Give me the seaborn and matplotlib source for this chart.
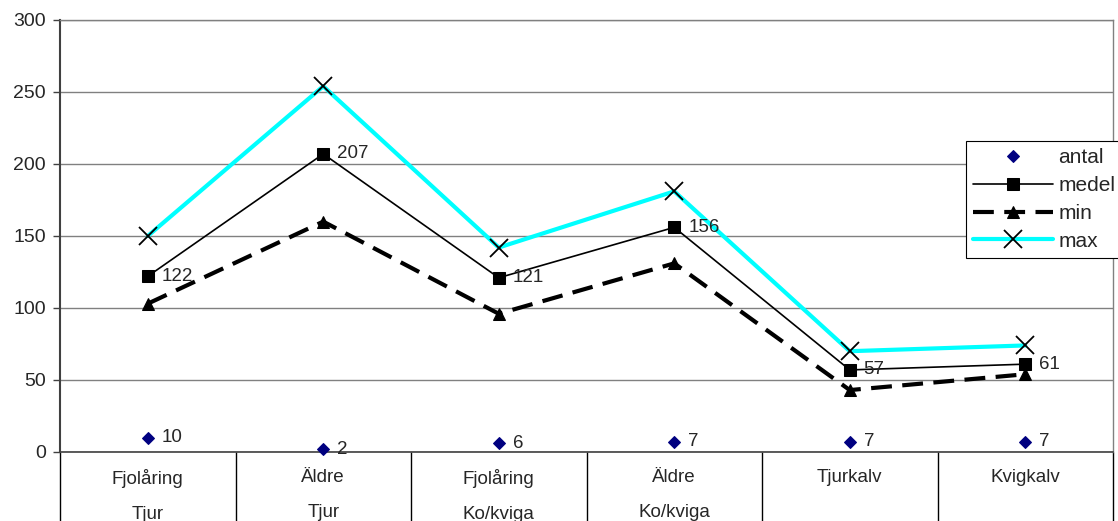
import numpy as np
import seaborn as sns
import matplotlib.pyplot as plt
from matplotlib.ticker import FixedLocator

# Data
categories = ['Fjolåring\nTjur', 'Äldre\nTjur', 'Fjolåring\nKo/kviga',
              'Äldre\nKo/kviga', 'Tjurkalv', 'Kvigkalv']
antal = [10, 2, 6, 7, 7, 7]
medel = [122, 207, 121, 156, 57, 61]
min_vals = [103, 160, 96, 131, 43, 54]
max_vals = [150, 254, 142, 181, 70, 74]
y_ticks = [0, 50, 100, 150, 200, 250, 300]

sns.set_style('white')
plt.rcParams['font.family'] = ['Liberation Sans', 'DejaVu Sans']
plt.rcParams['font.size'] = 13.5

pos = np.arange(len(categories))

fig = plt.figure(figsize=(11.18, 5.21), dpi=100)
ax = fig.add_axes([60 / 1118, 69 / 521, 1053 / 1118, 432 / 521])

sns.lineplot(x=pos, y=antal, ax=ax, linestyle='none', marker='D',
             markersize=6, color='#000080', markeredgecolor='#000080',
             label='antal', clip_on=False, zorder=5)
sns.lineplot(x=pos, y=medel, ax=ax, color='black', linewidth=1.2,
             marker='s', markersize=9, markeredgecolor='black',
             label='medel', zorder=4)
sns.lineplot(x=pos, y=min_vals, ax=ax, color='black', linewidth=3,
             dashes=False, marker='^', markersize=9, markeredgecolor='black',
             label='min', zorder=3)
ax.lines[-1].set_dashes((5, 2.5))
sns.lineplot(x=pos, y=max_vals, ax=ax, color='#00FFFF', linewidth=3,
             marker='x', markersize=13, markeredgecolor='black',
             markeredgewidth=1.3, label='max', zorder=2)

# data labels
for i, v in enumerate(antal):
    ax.annotate(str(v), (pos[i], v), xytext=(10, 0), textcoords='offset points',
                va='center', ha='left', fontsize=13.5, zorder=6)
for i, v in enumerate(medel):
    ax.annotate(str(v), (pos[i], v), xytext=(10, 0), textcoords='offset points',
                va='center', ha='left', fontsize=13.5, zorder=6)

ax.set_xlim(-0.5, len(categories) - 0.5)
ax.set_ylim(0, 300)
ax.set_yticks(y_ticks)
ax.yaxis.grid(True, color='#808080', linewidth=1)
ax.set_axisbelow(True)

ax.set_xticks(pos)
ax.set_xticklabels(categories)
for lab in ax.get_xticklabels():
    lab.set_linespacing(2.4)
ax.xaxis.set_minor_locator(FixedLocator(np.arange(-0.5, len(categories), 1)))
ax.tick_params(axis='x', which='major', length=0, pad=12, labelsize=13.5)
ax.tick_params(axis='x', which='minor', bottom=True, length=52, width=1,
               color='black', direction='out')
ax.tick_params(axis='y', left=True, length=5, width=1, color='#404040',
               pad=5, labelsize=14)

for side in ['top', 'right']:
    ax.spines[side].set_color('#808080')
    ax.spines[side].set_linewidth(1)
ax.spines['left'].set_color('#404040')
ax.spines['left'].set_linewidth(1.5)
ax.spines['bottom'].set_color('#404040')
ax.spines['bottom'].set_linewidth(1.2)

leg = ax.legend(loc='upper left', bbox_to_anchor=(966 / 1118, 1 - 141 / 521),
                bbox_transform=fig.transFigure, frameon=True, fancybox=False,
                framealpha=1, edgecolor='black', handlelength=3.85,
                handletextpad=0.25, labelspacing=0.43, borderpad=0.33,
                borderaxespad=0, fontsize=15)
leg.get_frame().set_linewidth(0.8)
leg.set_zorder(10)

fig.savefig('out.png', dpi=100)
